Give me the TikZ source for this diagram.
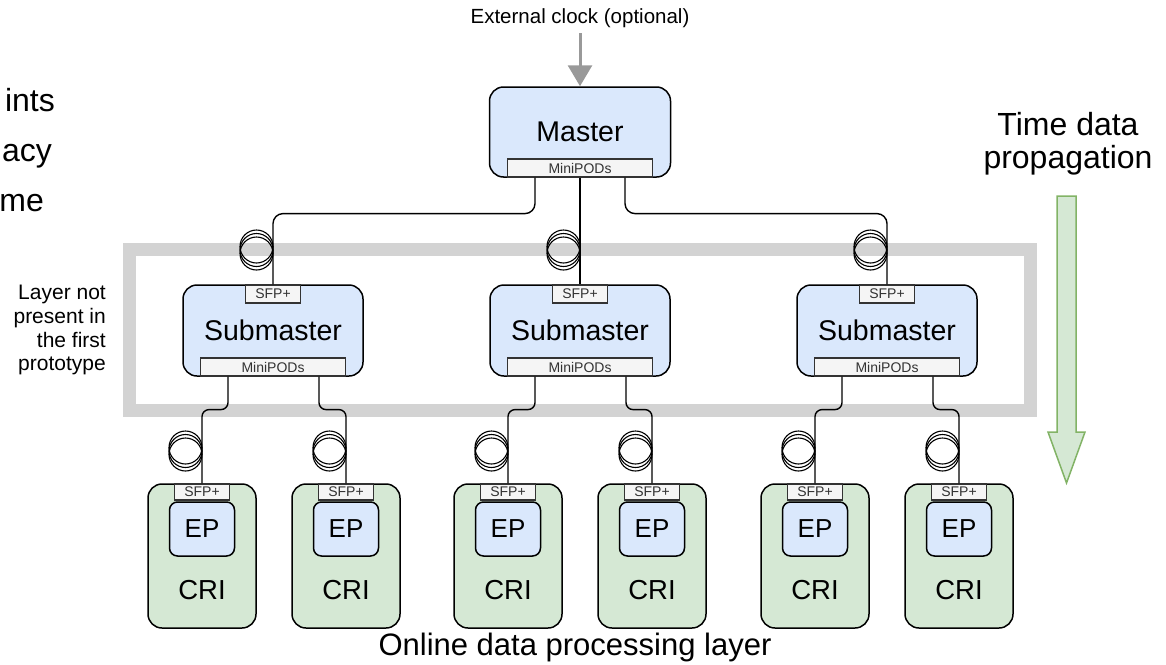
\documentclass[tikz,border=0pt]{standalone}
\usepackage{fontspec}
\setmainfont{Liberation Sans}
\usetikzlibrary{arrows.meta,calc}

\definecolor{boxblue}{HTML}{DAE8FC}
\definecolor{boxgreen}{HTML}{D5E8D4}
\definecolor{arrowgreen}{HTML}{82B366}
\definecolor{portfill}{HTML}{F5F5F5}
\definecolor{portline}{HTML}{333333}
\definecolor{framegray}{HTML}{D3D3D3}
\definecolor{clockgray}{HTML}{999999}

\newcommand{\setfs}[1]{\fontsize{#1}{#1}\selectfont}

\tikzset{
  unitbox/.style={draw=black, line width=1.5pt, rounded corners=14pt, inner sep=0pt},
  masterbox/.style={unitbox, fill=boxblue, minimum width=181pt, minimum height=90pt, font=\setfs{28.5}},
  subbox/.style={unitbox, fill=boxblue, minimum width=180pt, minimum height=91pt, font=\setfs{28.5}},
  cribox/.style={unitbox, fill=boxgreen, minimum width=108pt, minimum height=144pt},
  epbox/.style={unitbox, rounded corners=8pt, fill=boxblue, minimum width=65pt, minimum height=54pt, font=\setfs{26}},
  port/.style={draw=portline, fill=portfill, line width=1.2pt, inner sep=0pt, text=portline, font=\setfs{14}},
  widebar/.style={port, minimum width=145pt, minimum height=18pt},
  sfpslot/.style={port, minimum width=55pt, minimum height=18pt},
  crislot/.style={port, minimum width=55pt, minimum height=16pt},
  fiber/.style={draw=black, line width=1.4pt, rounded corners=10pt},
  shortfiber/.style={fiber, rounded corners=7pt},
  clockarrow/.style={draw=clockgray, line width=3pt, -{Triangle[width=24pt,length=21pt,fill=clockgray]}},
  plainlabel/.style={inner sep=0pt, anchor=base},
  coil/.pic={
    \draw[line width=1.1pt] (0,-3.5) circle[radius=16.5pt];
    \draw[line width=1.1pt] (0,0) circle[radius=16.5pt];
    \draw[line width=1.1pt] (0,3.5) circle[radius=16.5pt];
  }
}

\begin{document}
\begin{tikzpicture}[x=1pt,y=-1pt]
\useasboundingbox (0,0) rectangle (1166,664);

% clipped bullet text at the left edge
\node[plainlabel, anchor=base east, font=\setfs{32}] (frag1) at (55,111) {ints};
\node[plainlabel, anchor=base east, font=\setfs{32}] (frag2) at (52,161) {acy};
\node[plainlabel, anchor=base east, font=\setfs{32}] (frag3) at (44,211) {me};

% optional layer frame
\draw[framegray, line width=13pt] (129.5,249.5) rectangle (1030.5,410.5);

% layer note
\node[plainlabel, anchor=base east, font=\setfs{21}] (note1) at (106,299) {Layer not};
\node[plainlabel, anchor=base east, font=\setfs{21}] (note2) at (106,323) {present in};
\node[plainlabel, anchor=base east, font=\setfs{21}] (note3) at (106,347) {the first};
\node[plainlabel, anchor=base east, font=\setfs{21}] (note4) at (106,370) {prototype};

% master
\node[masterbox] (master) at (580,132) {Master};
\node[widebar] (mpM) at (580,168) {MiniPODs};

% external clock
\node[plainlabel, font=\setfs{20.5}] (clocklabel) at (580,23) {External clock (optional)};
\coordinate (clocksrc) at (580,33);
\draw[clockarrow] (clocksrc) -- (master.north);

% submasters
\foreach \i/\c in {1/273,2/580,3/887}{
  \node[subbox] (sub\i) at (\c,330.5) {Submaster};
  \node[sfpslot] (sfpS\i) at (\c,294) {SFP+};
  \node[widebar] (mpS\i) at (\c,367) {MiniPODs};
}

% CRI boards with endpoints
\foreach \j/\c in {1/202,2/346,3/508,4/652,5/815,6/959}{
  \node[cribox] (cri\j) at (\c,556) {};
  \node[crislot] (sfpC\j) at (\c,492) {SFP+};
  \node[epbox] (ep\j) at (\c,529) {EP};
  \node[inner sep=0pt, font=\setfs{27.5}] (crilabel\j) at (\c,590) {CRI};
}

% fibers master -> submasters
\draw[fiber] ([xshift=-45pt]mpM.south) -- ++(0,36) -| (sfpS1.north);
\draw[fiber] (mpM.south) -- (sfpS2.north);
\draw[fiber] ([xshift=45pt]mpM.south) -- ++(0,36) -| (sfpS3.north);

% fibers submasters -> CRIs
\draw[shortfiber] ([xshift=-45pt]mpS1.south) -- ++(0,33) -| (sfpC1.north);
\draw[shortfiber] ([xshift=46pt]mpS1.south) -- ++(0,33) -| (sfpC2.north);
\draw[shortfiber] ([xshift=-45pt]mpS2.south) -- ++(0,33) -| (sfpC3.north);
\draw[shortfiber] ([xshift=46pt]mpS2.south) -- ++(0,33) -| (sfpC4.north);
\draw[shortfiber] ([xshift=-45pt]mpS3.south) -- ++(0,33) -| (sfpC5.north);
\draw[shortfiber] ([xshift=46pt]mpS3.south) -- ++(0,33) -| (sfpC6.north);

% fiber spools
\foreach \x in {273,580,887}{ \pic at (\x-16.5,250) {coil}; }
\foreach \x in {202,346,508,652,815,959}{ \pic at (\x-16.5,451) {coil}; }

% time data propagation
\node[plainlabel, font=\setfs{32}] (timeA) at (1068,135) {Time data};
\node[plainlabel, font=\setfs{32}] (timeB) at (1068,168) {propagation};
\filldraw[fill=boxgreen, draw=arrowgreen, line width=1.5pt]
  (1057,196) -- (1076,196) -- (1076,432) -- (1085,432) -- (1066.5,483)
  -- (1048,432) -- (1057,432) -- cycle;

% bottom caption
\node[plainlabel, font=\setfs{31}] (layerlabel) at (575,655) {Online data processing layer};
\end{tikzpicture}
\end{document}
